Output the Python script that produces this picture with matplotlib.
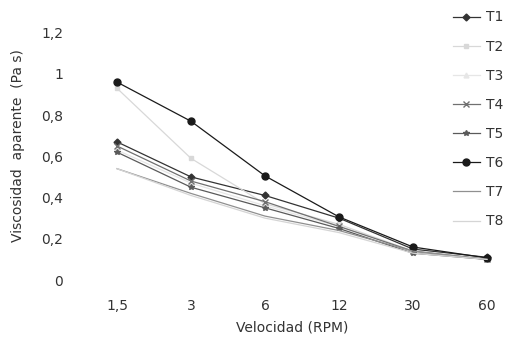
import numpy as np
import matplotlib.pyplot as plt

velocidad = ["1,5", "3", "6", "12", "30", "60"]
series = ["T1", "T2", "T3", "T4", "T5", "T6", "T7", "T8"]

T1 = [0.67, 0.50, 0.41, 0.30, 0.15, 0.11]
T2 = [0.93, 0.59, 0.37, 0.27, 0.14, 0.10]
T3 = [0.63, 0.47, 0.36, 0.26, 0.14, 0.10]
T4 = [0.65, 0.48, 0.38, 0.26, 0.14, 0.10]
T5 = [0.62, 0.45, 0.35, 0.25, 0.13, 0.10]
T6 = [0.96, 0.77, 0.505, 0.306, 0.16, 0.107]
T7 = [0.54, 0.42, 0.31, 0.24, 0.14, 0.10]
T8 = [0.54, 0.41, 0.30, 0.23, 0.13, 0.10]
values = [T1, T2, T3, T4, T5, T6, T7, T8]

yticks = [0, 0.2, 0.4, 0.6, 0.8, 1, 1.2]
ytick_labels = ["0", "0,2", "0,4", "0,6", "0,8", "1", "1,2"]

styles = [
    dict(color="#333333", marker="D", ms=3.5),
    dict(color="#d8d8d8", marker="s", ms=3.5),
    dict(color="#e6e6e6", marker="^", ms=3.5),
    dict(color="#707070", marker="x", ms=4),
    dict(color="#5a5a5a", marker="*", ms=4),
    dict(color="#1a1a1a", marker="o", ms=5),
    dict(color="#909090", marker="", ms=0),
    dict(color="#d5d5d5", marker="", ms=0),
]

plt.rcParams['font.family'] = ['DejaVu Sans']
fig = plt.figure(figsize=(5.11, 3.45), dpi=100)
ax = fig.add_axes([80/511, (345-280)/345, 425/511, 268/345])

x = np.arange(len(velocidad))
for name, vals, st in zip(series, values, styles):
    ax.plot(x, vals, label=name, lw=0.9, **st)

ax.set_xlim(-0.5, -0.5 + 425/74)
ax.set_ylim(0, 1.3)
ax.set_xticks(x)
ax.set_xticklabels(velocidad)
ax.set_yticks(yticks)
ax.set_yticklabels(ytick_labels)
for s in ax.spines.values():
    s.set_visible(False)
ax.tick_params(length=0, colors="#333333", labelsize=10)
ax.tick_params(axis="x", pad=14)
ax.tick_params(axis="y", pad=12)

ax.set_xlabel("Velocidad (RPM)", color="#333333", fontsize=10, labelpad=5)
ax.set_ylabel("Viscosidad  aparente  (Pa s)", color="#333333", fontsize=10, labelpad=12)

fig.legend(loc="upper left", bbox_to_anchor=(440/511, 1.006), frameon=False,
           fontsize=10, labelspacing=1.09, handlelength=2.0, handletextpad=0.4,
           labelcolor="#333333")

fig.savefig("out.png", dpi=100)
